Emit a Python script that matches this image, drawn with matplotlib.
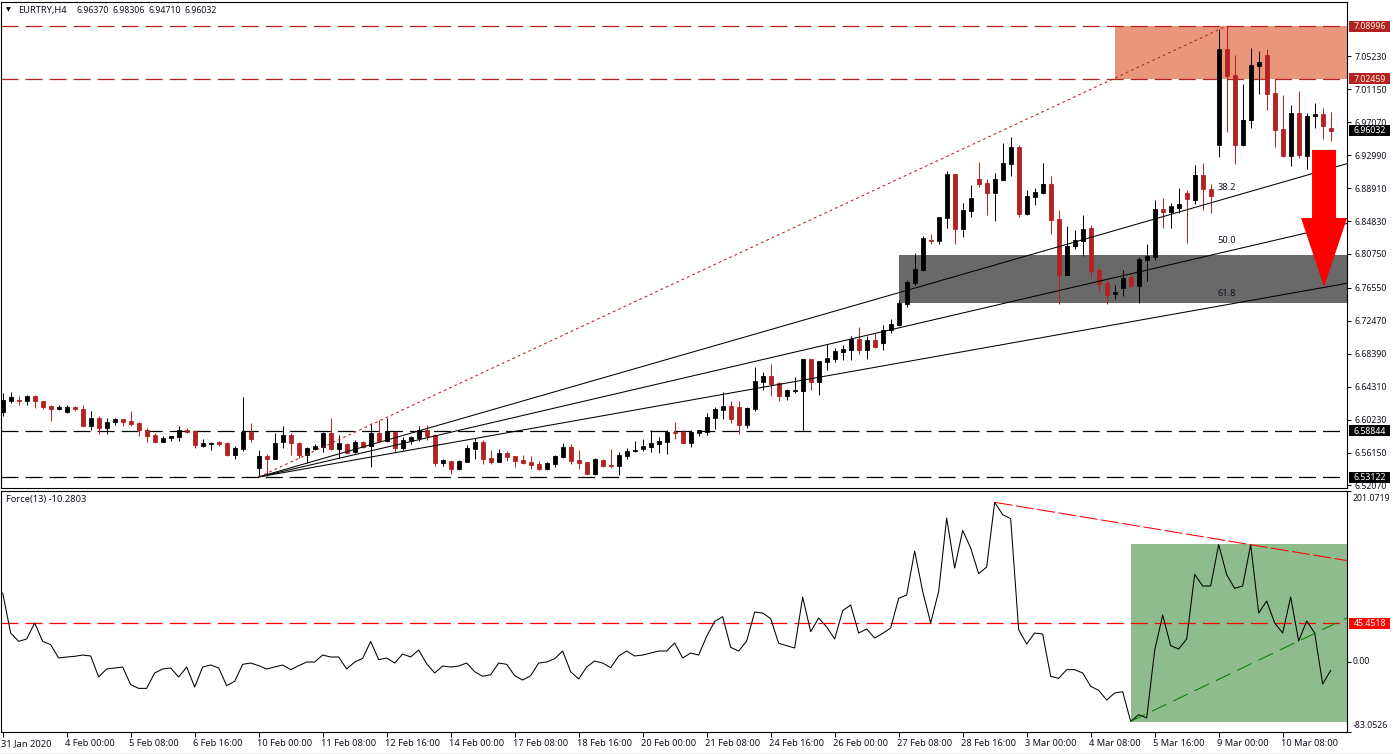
import matplotlib
matplotlib.use('Agg')
import matplotlib.pyplot as plt
from matplotlib.patches import Rectangle
from matplotlib.transforms import IdentityTransform, ScaledTranslation
import numpy as np

plt.rcParams['font.family'] = ['Noto Sans', 'DejaVu Sans']
plt.rcParams['lines.scale_dashes'] = False

# EURTRY H4 candles
opens = [6.612,6.625,6.627,6.625,6.632,6.625,6.619,6.616,6.612,6.618,
         6.616,6.595,6.604,6.592,6.599,6.603,6.601,6.598,6.589,6.583,
         6.574,6.580,6.581,6.589,6.588,6.570,6.572,6.574,6.573,6.558,
         6.566,6.587,6.542,6.557,6.554,6.574,6.583,6.573,6.559,6.566,
         6.568,6.586,6.566,6.572,6.562,6.575,6.570,6.586,6.576,6.587,
         6.567,6.576,6.580,6.589,6.583,6.549,6.551,6.541,6.550,6.566,
         6.575,6.555,6.550,6.561,6.557,6.552,6.550,6.547,6.541,6.547,
         6.556,6.568,6.552,6.550,6.535,6.552,6.546,6.545,6.557,6.563,
         6.566,6.568,6.572,6.575,6.587,6.587,6.573,6.586,6.587,6.604,
         6.614,6.619,6.618,6.596,6.615,6.649,6.656,6.648,6.632,6.638,
         6.638,6.677,6.649,6.674,6.677,6.686,6.689,6.702,6.689,6.701,
         6.697,6.713,6.720,6.746,6.772,6.788,6.825,6.824,6.852,6.907,
         6.839,6.861,6.900,6.895,6.883,6.899,6.919,6.940,6.857,6.878,
         6.883,6.894,6.851,6.782,6.817,6.824,6.840,6.788,6.772,6.758,
         6.765,6.779,6.768,6.800,6.804,6.863,6.860,6.865,6.883,6.874,
         6.905,6.888,6.943,7.061,7.029,6.943,6.973,7.041,7.054,7.007,
         6.962,6.929,6.982,6.929,6.978,6.981,6.96370]
highs = [6.635,6.636,6.632,6.633,6.633,6.625,6.620,6.620,6.620,6.619,
         6.620,6.613,6.607,6.604,6.604,6.603,6.613,6.599,6.592,6.586,
         6.582,6.582,6.594,6.592,6.589,6.578,6.574,6.576,6.575,6.570,
         6.630,6.598,6.565,6.560,6.586,6.594,6.586,6.575,6.569,6.572,
         6.587,6.604,6.583,6.573,6.577,6.576,6.598,6.602,6.604,6.588,
         6.581,6.582,6.594,6.596,6.584,6.554,6.551,6.552,6.571,6.579,
         6.577,6.565,6.566,6.563,6.557,6.558,6.557,6.551,6.550,6.558,
         6.573,6.572,6.565,6.550,6.555,6.554,6.566,6.562,6.567,6.576,
         6.578,6.590,6.581,6.590,6.599,6.590,6.590,6.590,6.610,6.618,
         6.637,6.625,6.625,6.618,6.668,6.661,6.671,6.649,6.640,6.655,
         6.677,6.677,6.675,6.696,6.691,6.695,6.706,6.717,6.706,6.710,
         6.720,6.727,6.751,6.775,6.809,6.830,6.832,6.853,6.910,6.907,
         6.871,6.893,6.921,6.900,6.908,6.945,6.952,6.943,6.887,6.889,
         6.920,6.904,6.862,6.842,6.837,6.856,6.843,6.791,6.775,6.769,
         6.788,6.783,6.804,6.820,6.874,6.877,6.871,6.889,6.887,6.918,
         6.920,6.894,7.086,7.08996,7.054,7.018,7.063,7.059,7.062,7.024,
         7.0045,6.992,7.0095,6.982,6.995,6.988,6.98306]
lows = [6.607,6.623,6.620,6.621,6.617,6.616,6.601,6.614,6.611,6.613,
        6.595,6.589,6.584,6.585,6.596,6.595,6.595,6.582,6.574,6.574,
        6.574,6.576,6.576,6.586,6.567,6.568,6.565,6.570,6.557,6.553,
        6.563,6.574,6.532,6.532,6.553,6.567,6.558,6.555,6.549,6.565,
        6.562,6.565,6.555,6.561,6.561,6.567,6.544,6.574,6.574,6.562,
        6.565,6.572,6.576,6.577,6.545,6.545,6.535,6.540,6.550,6.554,
        6.547,6.547,6.550,6.551,6.544,6.547,6.541,6.540,6.540,6.544,
        6.555,6.547,6.541,6.535,6.534,6.544,6.542,6.534,6.554,6.562,
        6.563,6.562,6.561,6.560,6.578,6.573,6.568,6.582,6.583,6.591,
        6.603,6.598,6.584,6.592,6.613,6.639,6.632,6.625,6.627,6.635,
        6.589,6.639,6.633,6.664,6.674,6.676,6.676,6.684,6.677,6.691,
        6.689,6.710,6.718,6.742,6.769,6.786,6.820,6.820,6.840,6.820,
        6.829,6.853,6.890,6.856,6.848,6.899,6.904,6.853,6.856,6.868,
        6.882,6.832,6.746,6.782,6.814,6.805,6.778,6.760,6.746,6.752,
        6.756,6.765,6.747,6.774,6.800,6.840,6.840,6.858,6.821,6.869,
        6.862,6.858,6.928,6.959,6.919,6.941,6.964,7.006,6.986,6.940,
        6.928,6.917,6.926,6.913,6.964,6.950,6.94710]
closes = [6.627,6.630,6.625,6.632,6.625,6.618,6.616,6.618,6.618,6.615,
          6.595,6.604,6.592,6.599,6.603,6.599,6.597,6.589,6.582,6.574,
          6.580,6.582,6.589,6.587,6.571,6.573,6.573,6.572,6.558,6.567,
          6.587,6.578,6.557,6.554,6.573,6.583,6.573,6.558,6.567,6.570,
          6.586,6.566,6.573,6.561,6.575,6.569,6.586,6.576,6.588,6.567,
          6.577,6.581,6.589,6.582,6.549,6.552,6.541,6.551,6.567,6.575,
          6.554,6.550,6.561,6.556,6.551,6.549,6.546,6.541,6.549,6.557,
          6.568,6.551,6.549,6.535,6.554,6.545,6.545,6.558,6.563,6.565,
          6.570,6.573,6.576,6.587,6.586,6.573,6.587,6.589,6.606,6.615,
          6.619,6.603,6.596,6.617,6.650,6.656,6.646,6.632,6.639,6.639,
          6.677,6.649,6.675,6.679,6.687,6.690,6.702,6.689,6.701,6.692,
          6.713,6.721,6.747,6.773,6.789,6.827,6.824,6.853,6.907,6.839,
          6.862,6.877,6.894,6.883,6.900,6.920,6.940,6.857,6.879,6.884,
          6.894,6.850,6.782,6.817,6.825,6.839,6.786,6.770,6.757,6.760,
          6.778,6.768,6.801,6.805,6.863,6.860,6.867,6.869,6.876,6.905,
          6.888,6.879,7.061,7.028,6.943,6.974,7.042,7.045,7.006,6.961,
          6.929,6.982,6.930,6.979,6.981,6.966,6.96032]

# Force index (13)
force = [80.8,33.7,23.9,26.7,45.5,23.9,20.0,4.3,5.5,6.3,
         7.8,6.7,-18.0,-8.6,-7.4,-6.3,-27.0,-31.4,-31.4,-13.3,
         -8.6,-7.4,-18.0,-6.3,-29.8,-6.3,-3.9,-7.4,-28.2,-23.1,
         -3.1,-1.6,-4.7,-8.6,-6.3,-3.9,-9.4,-4.7,-0.4,-0.4,
         7.8,5.5,5.5,-8.6,-0.4,3.9,23.9,2.4,4.3,-1.6,
         9.0,5.5,13.7,-2.4,-13.3,-5.1,-6.3,-5.1,-1.6,-11.8,
         -17.2,-15.3,-1.6,-3.1,-16.5,-21.6,-16.5,-1.6,-0.4,3.5,
         12.5,-11.8,-20.4,-6.3,0.8,-1.6,-7.1,6.7,12.5,6.7,
         7.8,10.2,12.5,12.5,22.0,4.3,10.2,7.8,29.8,47.4,
         52.9,16.9,12.5,24.3,58.4,57.2,50.6,21.6,18.8,16.1,
         76.0,35.3,51.4,40.8,26.7,60.0,66.6,33.7,38.4,27.8,
         33.3,39.6,74.5,78.4,130.1,82.7,45.5,82.7,169.0,110.2,
         154.4,133.7,103.5,111.3,187.4,172.9,168.2,37.6,20.8,33.7,
         32.5,-17.2,-19.6,-9.4,-9.4,-13.3,-29.0,-33.7,-45.1,-36.8,
         -35.3,-70.2,-62.3,-66.2,13.3,54.9,18.8,14.9,26.7,102.7,
         89.0,89.0,137.6,102.3,86.2,89.0,137.6,57.2,71.3,45.5,
         33.7,76.0,24.3,47.8,33.7,-26.3,-10.28]

date_labels = ['31 Jan 2020', '4 Feb 00:00', '5 Feb 08:00', '6 Feb 16:00', '10 Feb 00:00',
               '11 Feb 08:00', '12 Feb 16:00', '14 Feb 00:00', '17 Feb 08:00', '18 Feb 16:00',
               '20 Feb 00:00', '21 Feb 08:00', '24 Feb 16:00', '26 Feb 00:00', '27 Feb 08:00',
               '28 Feb 16:00', '3 Mar 00:00', '4 Mar 08:00', '5 Mar 16:00', '9 Mar 00:00',
               '10 Mar 08:00']
price_ticks = [7.05230, 7.01150, 6.97070, 6.92990, 6.88910, 6.84830, 6.80750, 6.76550,
               6.72470, 6.68390, 6.64310, 6.60230, 6.56150, 6.52070]
fib_ratios = [0.382, 0.5, 0.618]
fib_names = ['38.2', '50.0', '61.8']

resist_hi, resist_lo = 7.08996, 7.02459
support_hi, support_lo = 6.58844, 6.53122
zone_hi, zone_lo = 6.8063, 6.7468
force_level = 45.4518

RED = '#B22222'
INK = '#101020'
W, H = 1393, 754
FS = 6.3   # numbers
FS_TXT = 6.7   # mixed text, letters are wider in the original font
LW = 0.75


def pane(left, top, right, bottom):
    return fig.add_axes([left / W, 1 - bottom / H, (right - left) / W, (bottom - top) / H])


def dashed(ax, level, color):
    ax.axhline(level, color=color, lw=0.9, ls=(0, (12.2, 5.1)), zorder=2)


def value_box(ax, level, text, bg, fg='white'):
    # drawn in figure pixels so the box sits on top of the tick labels
    ypx = ax.transData.transform((0, level))[1]
    fig.add_artist(Rectangle((1349, ypx - 5.5), 41, 11, transform=IdentityTransform(),
                             fc=bg, ec='none', zorder=5))
    fig.text(1353.5, ypx - 0.3, text, transform=IdentityTransform(), fontsize=FS, color=fg,
             va='center', ha='left', zorder=6)


fig = plt.figure(figsize=(W / 100, H / 100), dpi=100)
ax = pane(1.3, 2, 1347, 488.3)
ax2 = pane(1.3, 490.7, 1347, 732.3)

x = np.arange(len(opens))
o, h, l, c = map(np.array, (opens, highs, lows, closes))
xmin, xmax = (1.3 - 2.67) / 8, (1347 - 2.67) / 8

# zones behind everything
ax.add_patch(Rectangle((139, resist_lo), xmax - 139, resist_hi - resist_lo, fc='#E9967A', ec='none', zorder=1))
ax.add_patch(Rectangle((112, zone_lo), xmax - 112, zone_hi - zone_lo, fc='#696969', ec='none', zorder=1))

dashed(ax, resist_hi, RED)
dashed(ax, resist_lo, RED)
dashed(ax, support_hi, 'black')
dashed(ax, support_lo, 'black')

# candles
colors = [RED if cl < op else 'black' for op, cl in zip(o, c)]
ax.vlines(x, l, h, colors=colors, lw=0.72, zorder=3)
ax.bar(x, np.abs(c - o), bottom=np.minimum(o, c), width=0.54, color=colors, edgecolor=colors,
       linewidth=0.6, zorder=3)

# fibonacci fan from the swing low bar to the swing high bar
fan_x0, fan_x1 = 32, 153
for ratio, name in zip(fib_ratios, fib_names):
    level = resist_hi - ratio * (resist_hi - support_lo)
    end = support_lo + (level - support_lo) * (xmax - fan_x0) / (fan_x1 - fan_x0)
    ax.plot([fan_x0, xmax], [support_lo, end], color='black', lw=LW, zorder=4)
    ax.annotate(name, xy=(fan_x1, level), xytext=(0, 11), textcoords='offset pixels', ha='center',
                va='center', fontsize=FS_TXT, color=INK, zorder=5)
ax.plot([fan_x0, fan_x1], [support_lo, resist_hi], color=RED, lw=LW, ls=(0, (2, 2.2)), zorder=4)

# big red arrow
ax.fill([163.67, 166.67, 166.67, 168.05, 165.17, 162.3, 163.67],
        [6.9364, 6.9364, 6.8521, 6.8521, 6.7666, 6.8521, 6.8521], color='#FF0000', lw=0, zorder=6)

ax.set_xlim(xmin, xmax)
ax.set_ylim(resist_hi - (resist_hi - support_lo) * (488.3 - 26) / 451, resist_hi + (resist_hi - support_lo) * 24 / 451)
ax.yaxis.tick_right()
ax.set_yticks(price_ticks)
ax.set_yticklabels(['%.5f' % t for t in price_ticks])
ax.set_xticks([])
ax.tick_params(axis='y', length=3, width=0.7, pad=2.5, labelsize=FS, labelcolor=INK)

# header: symbol then the last bar's OHLC
ax.text(5 / 1345, 0.9835, '\u25bc', transform=ax.transAxes, fontsize=4.5, va='center', ha='left', color='black')
ax.text(17 / 1345, 0.983, 'EURTRY,H4', transform=ax.transAxes, fontsize=FS_TXT, va='center', ha='left', color=INK)
for px, val in zip([75, 111, 147, 183], [opens[-1], highs[-1], lows[-1], closes[-1]]):
    ax.text(px / 1345, 0.983, '%.5f' % val, transform=ax.transAxes, fontsize=FS, va='center', ha='left', color=INK)

# force pane
ax2.add_patch(Rectangle((141, -71.4), xmax - 141, 138.8 + 71.4, fc='#8FBC8F', ec='none', zorder=1))
dashed(ax2, force_level, '#FF0000')
ax2.plot(x, force, color='black', lw=LW, zorder=3)

for a, b, col, dash in [(124, 156, '#FF0000', (0, (13, 2.5))), (141, 162, '#008000', (0, (11.5, 5.5)))]:
    slope = (force[b] - force[a]) / (b - a)
    ax2.plot([a, xmax], [force[a], force[a] + slope * (xmax - a)], color=col, lw=LW, ls=dash, zorder=4)

ax2.set_xlim(xmin, xmax)
ax2.set_ylim(-83.0526, 201.0719)
ax2.yaxis.tick_right()
ax2.set_yticks([201.0719, 0.0, -83.0526])
ax2.set_yticklabels([])
ax2.tick_params(axis='y', length=3, width=0.7)
ax2.set_xticks(x[::8])
ax2.set_xticklabels(date_labels, ha='left')
ax2.tick_params(axis='x', length=3.5, width=0.7, pad=1.5, labelsize=FS_TXT, labelcolor=INK)
shift = ScaledTranslation(-1.5 / 100, 0, fig.dpi_scale_trans)
for lab in ax2.get_xticklabels():
    lab.set_transform(lab.get_transform() + shift)

for val, dy, txt in [(201.0719, -8, '201.0719'), (0.0, 0, '0.00'), (-83.0526, 7, '-83.0526')]:
    ax2.annotate(txt, xy=(1, val), xycoords=ax2.get_yaxis_transform(), xytext=(6, dy),
                 textcoords='offset pixels', va='center', ha='left', fontsize=FS, color=INK,
                 annotation_clip=False)
ax2.text(5 / 1345, 0.9635, 'Force(13) -10.2803', transform=ax2.transAxes, fontsize=FS_TXT, va='center',
         ha='left', color=INK)

for a in (ax, ax2):
    for s in a.spines.values():
        s.set_linewidth(0.8)

value_box(ax, resist_hi, '7.08996', RED, '#FFF5DC')
value_box(ax, resist_lo, '7.02459', RED, '#FFF5DC')
value_box(ax, closes[-1], '6.96032', 'black')
value_box(ax, support_hi, '6.58844', 'black')
value_box(ax, support_lo, '6.53122', 'black')
value_box(ax2, force_level, '45.4518', '#FF0000')

# thin grey window strip along the bottom edge
fig.add_artist(Rectangle((0, 0), 1, 1.5 / H, transform=fig.transFigure, fc='#F0F0F0', ec='none'))

fig.savefig('out.png', dpi=100)
